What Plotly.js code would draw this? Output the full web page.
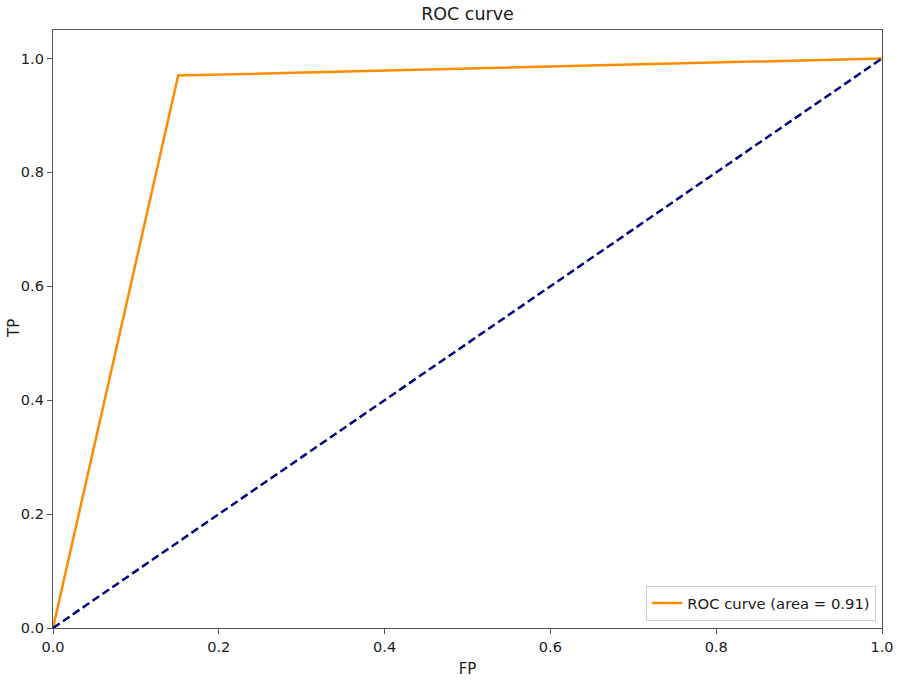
<!DOCTYPE html>
<html>
<head>
<meta charset="utf-8">
<script src="https://cdn.plot.ly/plotly-3.0.1.min.js"></script>
<style>html,body{margin:0;padding:0;background:#fff;}#chart{width:920px;height:681px;}</style>
</head>
<body>
<div id="chart"></div>
<script>
const fpr = [0.0, 0.151, 1.0];
const tpr = [0.0, 0.970, 1.0];
const chanceX = [0, 1];
const chanceY = [0, 1];
const rocLabel = 'ROC curve (area = 0.91)';
const yTitle = 'TP';
const xTitle = 'FP';
const tickVals = [0.0, 0.2, 0.4, 0.6, 0.8, 1.0];
const tickText = ['0.0', '0.2', '0.4', '0.6', '0.8', '1.0'];

const traces = [
  {x: fpr, y: tpr, type: 'scatter', mode: 'lines', name: rocLabel,
   line: {color: '#ff8c00', width: 2.5}, cliponaxis: false},
  {x: chanceX, y: chanceY, type: 'scatter', mode: 'lines', showlegend: false,
   line: {color: '#000080', width: 2.5, dash: '8px,4px'}, cliponaxis: false}
];

const axisCommon = {
  showgrid: false, zeroline: false, showline: true, linecolor: '#555', linewidth: 1.4,
  mirror: true, ticks: 'outside', ticklen: 5, tickwidth: 1.2, tickcolor: '#555',
  tickfont: {family: 'DejaVu Sans', size: 14.5, color: '#1a1a1a'},
  tickvals: tickVals, ticktext: tickText, automargin: false
};

const layout = {
  width: 920, height: 681,
  margin: {l: 53, r: 38, t: 30, b: 53},
  paper_bgcolor: '#fff', plot_bgcolor: '#fff',
  title: {text: 'ROC curve', font: {family: 'DejaVu Sans', size: 17.5, color: '#1a1a1a'},
          x: 0.5, xref: 'paper', y: 0.980, yanchor: 'middle'},
  xaxis: Object.assign({}, axisCommon, {range: [0, 1],
    title: {text: xTitle, font: {family: 'DejaVu Sans', size: 15, color: '#1a1a1a'}, standoff: 9}}),
  yaxis: Object.assign({}, axisCommon, {range: [0, 1.05]}),
  annotations: [{
    text: yTitle, xref: 'paper', yref: 'paper', x: -0.047, y: 0.5,
    xanchor: 'center', yanchor: 'middle', textangle: -90, showarrow: false, borderpad: 0,
    font: {family: 'DejaVu Sans', size: 15, color: '#1a1a1a'}
  }],
  showlegend: true,
  legend: {x: 0.993, y: 0.012, xanchor: 'right', yanchor: 'bottom',
           bgcolor: '#fff', bordercolor: '#ccc', borderwidth: 1,
           font: {family: 'DejaVu Sans', size: 14.8, color: '#1a1a1a'}}
};

Plotly.newPlot('chart', traces, layout, {displayModeBar: false});
</script>
</body>
</html>
